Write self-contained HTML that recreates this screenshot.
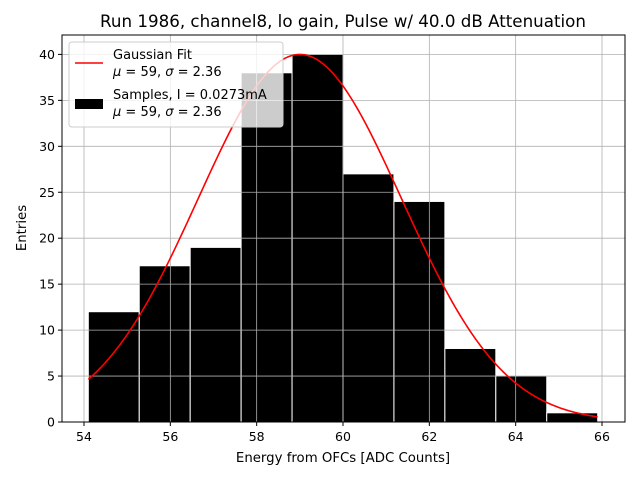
<!DOCTYPE html>
<html><head><meta charset="utf-8"><style>body{margin:0;background:#fff}svg{display:block;font-family:"DejaVu Sans","Liberation Sans",sans-serif}</style></head>
<body>
<svg id="chart" width="640" height="480">
<rect x="0" y="0" width="640" height="480" fill="#fff"/>
<g id="bars"></g><g id="grid"></g><g id="curve"></g><g id="ticks"></g>
<rect x="62" y="35" width="563" height="387" fill="none" stroke="#000" stroke-width="1"/>
<text x="343" y="27" font-size="16.7" text-anchor="middle">Run 1986, channel8, lo gain, Pulse w/ 40.0 dB Attenuation</text>
<text x="343" y="462" font-size="13.3" text-anchor="middle">Energy from OFCs [ADC Counts]</text>
<text x="26" y="228" font-size="13.3" text-anchor="middle" transform="rotate(-90 26 228)">Entries</text>
<g>
<rect x="69" y="42" width="214" height="85" rx="3" fill="#fff" fill-opacity="0.8" stroke="#ccc"/>
<line x1="75" y1="63" x2="103" y2="63" stroke="red" stroke-width="1.5"/>
<text x="113" y="59" font-size="13">Gaussian Fit</text>
<text x="113" y="76" font-size="13"><tspan font-style="italic">μ</tspan> = 59, <tspan font-style="italic">σ</tspan> = 2.36</text>
<rect x="75" y="99" width="28" height="10" fill="#000"/>
<text x="113" y="99" font-size="13">Samples, I = 0.0273mA</text>
<text x="113" y="116" font-size="13"><tspan font-style="italic">μ</tspan> = 59, <tspan font-style="italic">σ</tspan> = 2.36</text>
</g>
</svg>
<script>
const binEdges=[54.1,55.28,56.46,57.64,58.82,60.0,61.18,62.36,63.54,64.72,65.9];
const counts=[12,17,19,38,40,27,24,8,5,1];
const xTicks=[54,56,58,60,62,64,66];
const yTicks=[0,5,10,15,20,25,30,35,40];
const fitMu=59, fitSigma=2.36, fitAmp=40;
const NS='http://www.w3.org/2000/svg';
const X=v=>84+(v-54)*(518/12);
const Y=v=>422-v*9.19;
function mk(t,a,p){const e=document.createElementNS(NS,t);for(const k in a)e.setAttribute(k,a[k]);p.appendChild(e);return e;}
const bars=document.getElementById('bars');
counts.forEach((c,i)=>{const r=mk('rect',{x:X(binEdges[i]),y:Y(c),width:X(binEdges[i+1])-X(binEdges[i]),height:Y(0)-Y(c),fill:'#000',stroke:'#fff','stroke-width':1},bars);

});
const grid=document.getElementById('grid'),ticks=document.getElementById('ticks');
xTicks.forEach(t=>{const g=mk('line',{x1:X(t),x2:X(t),y1:35,y2:422,stroke:'#b0b0b0','stroke-width':0.8},grid);


mk('line',{x1:X(t),x2:X(t),y1:422,y2:426,stroke:'#000'},ticks);
const l=mk('text',{x:X(t),y:441,'font-size':12.5,'text-anchor':'middle'},ticks);l.textContent=t;

});
yTicks.forEach(t=>{const g=mk('line',{x1:62,x2:625,y1:Y(t),y2:Y(t),stroke:'#b0b0b0','stroke-width':0.8},grid);


mk('line',{x1:58,x2:62,y1:Y(t),y2:Y(t),stroke:'#000'},ticks);
const l=mk('text',{x:55,y:Y(t)+4.5,'font-size':12.5,'text-anchor':'end'},ticks);l.textContent=t;

});
let d='';const lo=binEdges[0],hi=binEdges[binEdges.length-1];
for(let i=0;i<=200;i++){const v=lo+(hi-lo)*i/200;const f=fitAmp*Math.exp(-Math.pow(v-fitMu,2)/(2*fitSigma*fitSigma));d+=(i?'L':'M')+X(v).toFixed(2)+','+Y(f).toFixed(2);}
const p=mk('path',{d:d,fill:'none',stroke:'red','stroke-width':1.6},document.getElementById('curve'));


</script>
</body></html>
